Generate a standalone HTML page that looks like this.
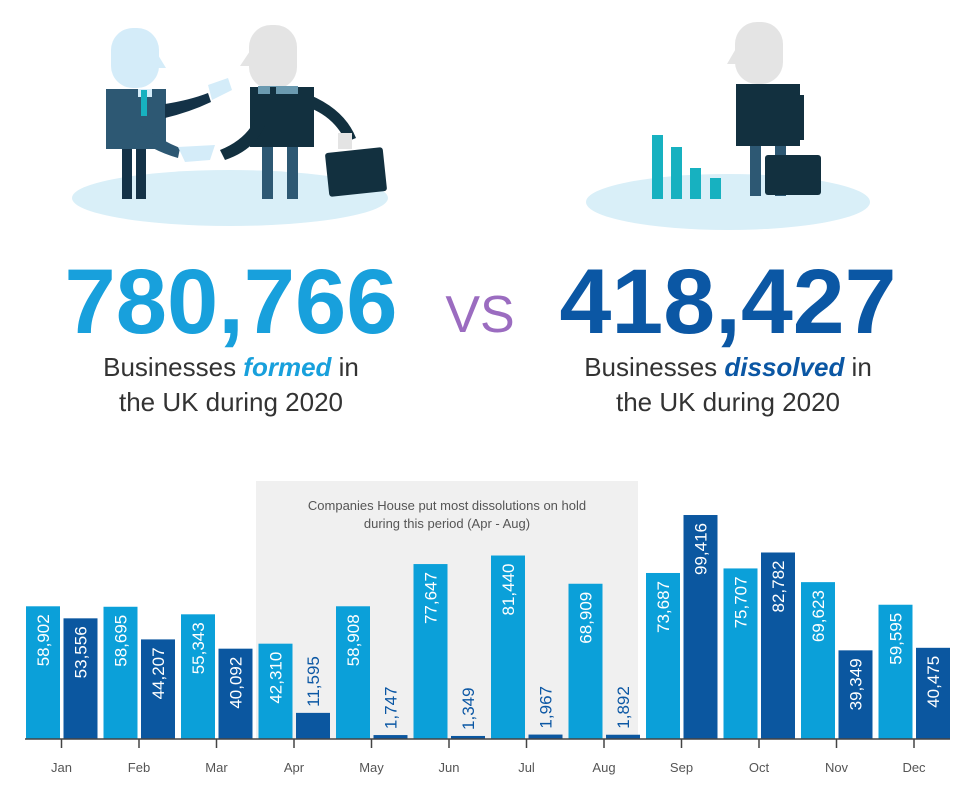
<!DOCTYPE html>
<html><head><meta charset="utf-8"><style>
html,body{margin:0;padding:0;background:#fff;}
svg{display:block;font-family:"Liberation Sans",sans-serif;}
</style></head><body>
<svg width="980" height="789" viewBox="0 0 980 789" xmlns="http://www.w3.org/2000/svg">
<!-- left illustration -->
<ellipse cx="230" cy="198" rx="158" ry="28" fill="#d9eff8"/>
<rect x="111" y="28" width="48" height="60" rx="22" fill="#d4ecf9"/>
<polygon points="155,50 166,68 155,68" fill="#d4ecf9"/>
<rect x="106" y="89" width="60" height="60" fill="#2d5873"/>
<rect x="138" y="89" width="14" height="8" fill="#d4ecf9"/>
<rect x="141" y="90" width="6" height="26" fill="#17b1c0"/>
<path d="M165,104 Q190,100 208,93 L211,102 Q190,112 165,118Z" fill="#143247"/>
<path d="M208,85 L228,78 L232,90 L212,100Z" fill="#d4ecf9"/>
<rect x="122" y="149" width="10" height="50" fill="#143247"/>
<rect x="136" y="149" width="10" height="50" fill="#143247"/>
<path d="M140,125 Q160,140 180,148 L178,158 Q150,150 135,135Z" fill="#2d5873"/>
<path d="M178,147 L215,145 L210,160 L185,162Z" fill="#d4ecf9"/>
<rect x="249" y="25" width="48" height="64" rx="22" fill="#e4e4e4"/>
<polygon points="252,48 240,66 252,66" fill="#e4e4e4"/>
<rect x="250" y="87" width="64" height="60" fill="#12303f"/>
<rect x="258" y="86" width="40" height="8" fill="#6b9ab0"/>
<rect x="270" y="87" width="6" height="14" fill="#12303f"/>
<path d="M220,150 Q245,140 255,120 L265,125 Q255,150 225,160Z" fill="#12303f"/>
<path d="M310,95 Q345,110 356,138 L346,142 Q335,118 310,108Z" fill="#12303f"/>
<rect x="262" y="147" width="11" height="52" fill="#2d5873"/>
<rect x="287" y="147" width="11" height="52" fill="#2d5873"/>
<rect x="327" y="150" width="58" height="44" rx="3" fill="#12303f" transform="rotate(-6 356 172)"/>
<rect x="338" y="133" width="14" height="16" fill="#e4e4e4"/>
<!-- right illustration -->
<ellipse cx="728" cy="202" rx="142" ry="28" fill="#d9eff8"/>
<rect x="735" y="22" width="48" height="62" rx="22" fill="#e4e4e4"/>
<polygon points="738,45 727,64 738,64" fill="#e4e4e4"/>
<rect x="736" y="84" width="64" height="62" fill="#12303f"/>
<rect x="794" y="95" width="10" height="45" fill="#12303f"/>
<rect x="750" y="146" width="11" height="50" fill="#2d5873"/>
<rect x="775" y="146" width="11" height="50" fill="#2d5873"/>
<rect x="765" y="155" width="56" height="40" rx="3" fill="#12303f"/>
<rect x="652" y="135" width="11" height="64" fill="#17b1c0"/>
<rect x="671" y="147" width="11" height="52" fill="#17b1c0"/>
<rect x="690" y="168" width="11" height="31" fill="#17b1c0"/>
<rect x="710" y="178" width="11" height="21" fill="#17b1c0"/>
<!-- headline -->
<text x="231" y="333" text-anchor="middle" font-size="92" font-weight="bold" fill="#18a0dc" textLength="333" lengthAdjust="spacingAndGlyphs">780,766</text>
<text x="728" y="333" text-anchor="middle" font-size="92" font-weight="bold" fill="#0b57a4" textLength="337" lengthAdjust="spacingAndGlyphs">418,427</text>
<text x="480" y="332" text-anchor="middle" font-size="52" fill="#9b6cc0">VS</text>
<text x="231" y="376" text-anchor="middle" font-size="26" fill="#333">Businesses <tspan font-weight="bold" font-style="italic" fill="#18a0dc">formed</tspan> in</text>
<text x="231" y="411" text-anchor="middle" font-size="26" fill="#333">the UK during 2020</text>
<text x="728" y="376" text-anchor="middle" font-size="26" fill="#333">Businesses <tspan font-weight="bold" font-style="italic" fill="#0b57a4">dissolved</tspan> in</text>
<text x="728" y="411" text-anchor="middle" font-size="26" fill="#333">the UK during 2020</text>
<!-- chart -->
<rect x="256" y="481" width="382" height="258" fill="#f0f0f0"/>
<text x="447" y="510" text-anchor="middle" font-size="13" fill="#555">Companies House put most dissolutions on hold</text>
<text x="447" y="528" text-anchor="middle" font-size="13" fill="#555">during this period (Apr - Aug)</text>
<g id="bars"></g>
<line x1="25" y1="739" x2="950" y2="739" stroke="#444" stroke-width="1.5"/>
<g id="ticks" font-size="13" fill="#555" text-anchor="middle"></g>
<script>
var f=[58902,58695,55343,42310,58908,77647,81440,68909,73687,75707,69623,59595];
var d=[53556,44207,40092,11595,1747,1349,1967,1892,99416,82782,39349,40475];
var m=["Jan","Feb","Mar","Apr","May","Jun","Jul","Aug","Sep","Oct","Nov","Dec"];
var ns="http://www.w3.org/2000/svg",g=document.getElementById("bars"),t=document.getElementById("ticks");
function el(n,a,p){var e=document.createElementNS(ns,n);for(var k in a)e.setAttribute(k,a[k]);p.appendChild(e);return e;}
function bar(x,v,c){var h=v*0.002253,top=739-h;el("rect",{x:x,y:top,width:34,height:h,fill:c},g);
 var s=v.toLocaleString("en-US"),cx=x+17+6;var tx;
 if(h>80){tx=el("text",{x:cx,y:top+8,"text-anchor":"end",transform:"rotate(-90 "+cx+" "+(top+8)+")","font-size":"17",fill:"#fff"},g);}
 else{tx=el("text",{x:cx,y:top-6,"text-anchor":"start",transform:"rotate(-90 "+cx+" "+(top-6)+")","font-size":"17",fill:"#0b57a4"},g);}
 tx.textContent=s;}
for(var i=0;i<12;i++){var x0=26+i*77.5;bar(x0,f[i],"#0ba0d9");bar(x0+37.5,d[i],"#0b57a0");
 var c=x0+35.5;el("line",{x1:c,y1:739,x2:c,y2:748,stroke:"#444","stroke-width":"1.5"},t);
 var l=el("text",{x:c,y:772},t);l.textContent=m[i];}
</script>
</svg>
</body></html>
